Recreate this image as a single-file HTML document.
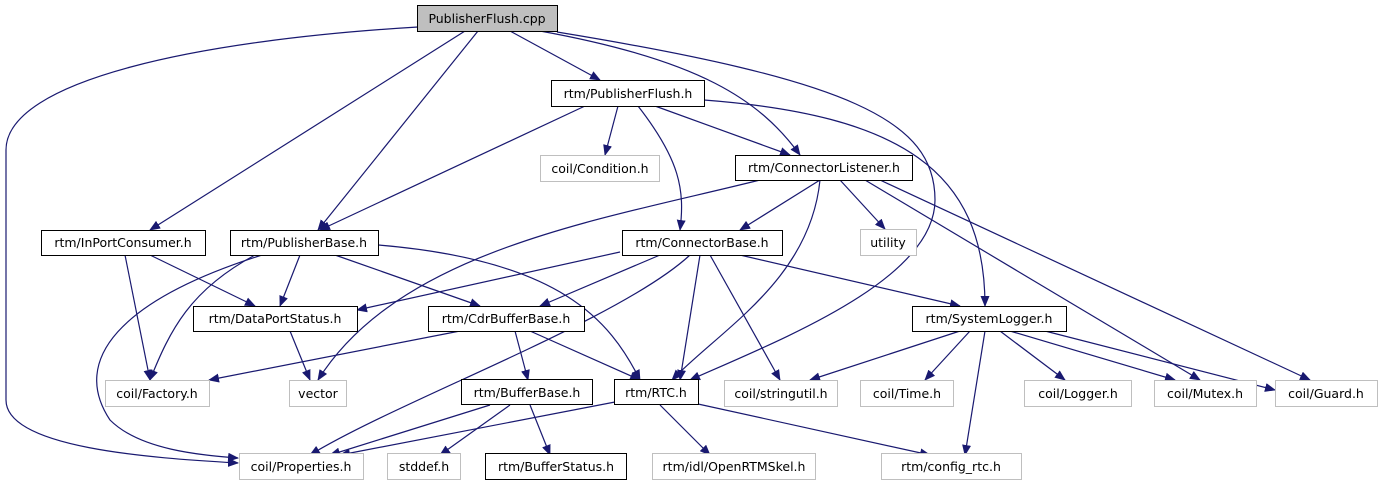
<!DOCTYPE html>
<html><head><meta charset="utf-8"><style>
html,body{margin:0;padding:0;background:#fff;}
svg{display:block;}
text{font-family:"DejaVu Sans","Liberation Sans",sans-serif;font-size:12.5px;text-anchor:middle;}
</style></head><body>
<svg width="1381" height="485" viewBox="0 0 1381 485" xmlns="http://www.w3.org/2000/svg">
<defs><marker id="a" markerWidth="11" markerHeight="9" refX="10" refY="4.5" orient="auto" markerUnits="userSpaceOnUse"><path d="M0,0 L11,4.5 L0,9 z" fill="#191970"/></marker></defs>
<g fill="none" stroke="#191970" stroke-width="1.2" marker-end="url(#a)">
<path d="M418,27 C200,40 6,80 6,150 L6,400 C6,448 150,458 238,463"/>
<path d="M465,31 L150,230"/>
<path d="M478,31 L318,230"/>
<path d="M510,31 L600,80"/>
<path d="M540,31 C700,60 760,100 800,155"/>
<path d="M557,32 C850,80 935,120 935,200 C935,280 780,340 690,380"/>
<path d="M704,100 C900,115 985,170 985,306"/>
<path d="M618,106 L605,155"/>
<path d="M585,106 L320,230"/>
<path d="M655,106 L790,155"/>
<path d="M638,106 C680,160 685,190 680,230"/>
<path d="M820,180 L740,230"/>
<path d="M840,180 L885,229"/>
<path d="M760,180 C600,220 400,250 318,380"/>
<path d="M820,180 C810,280 720,330 672,380"/>
<path d="M865,180 L1200,380"/>
<path d="M880,180 L1310,380"/>
<path d="M125,255 L150,380"/>
<path d="M150,255 L255,306"/>
<path d="M300,255 L280,306"/>
<path d="M335,255 L480,306"/>
<path d="M378,245 C560,260 610,320 640,380"/>
<path d="M255,255 C190,290 170,330 150,380"/>
<path d="M262,255 C120,300 70,360 110,420 C140,450 200,455 238,458"/>
<path d="M620,252 L357,310"/>
<path d="M660,255 L540,306"/>
<path d="M690,255 C620,320 400,400 310,455"/>
<path d="M700,255 L680,380"/>
<path d="M710,255 L780,380"/>
<path d="M740,255 L960,306"/>
<path d="M290,331 L310,380"/>
<path d="M460,331 L209,380"/>
<path d="M515,331 L528,380"/>
<path d="M530,331 L640,380"/>
<path d="M490,405 L330,455"/>
<path d="M510,405 L440,455"/>
<path d="M530,405 L550,455"/>
<path d="M615,402 L340,455"/>
<path d="M660,405 L710,455"/>
<path d="M698,404 L930,455"/>
<path d="M960,331 L810,380"/>
<path d="M970,331 L925,380"/>
<path d="M985,331 L965,455"/>
<path d="M1000,331 L1065,380"/>
<path d="M1010,331 L1175,380"/>
<path d="M1045,331 L1275,390"/>
</g>
<g stroke-width="1">
<rect x="417.5" y="5.5" width="140" height="26" fill="#bfbfbf" stroke="#000"/>
<rect x="551.5" y="80.5" width="153" height="26" fill="#fff" stroke="#000"/>
<rect x="540.5" y="155.5" width="119" height="26" fill="#fff" stroke="#bfbfbf"/>
<rect x="735.5" y="155.5" width="177" height="25" fill="#fff" stroke="#000"/>
<rect x="41.5" y="230.5" width="164" height="25" fill="#fff" stroke="#000"/>
<rect x="230.5" y="230.5" width="148" height="25" fill="#fff" stroke="#000"/>
<rect x="622.5" y="230.5" width="160" height="25" fill="#fff" stroke="#000"/>
<rect x="860.5" y="229.5" width="56" height="26" fill="#fff" stroke="#bfbfbf"/>
<rect x="193.5" y="306.5" width="164" height="25" fill="#fff" stroke="#000"/>
<rect x="428.5" y="306.5" width="156" height="25" fill="#fff" stroke="#000"/>
<rect x="912.5" y="306.5" width="154" height="25" fill="#fff" stroke="#000"/>
<rect x="105.5" y="380.5" width="104" height="26" fill="#fff" stroke="#bfbfbf"/>
<rect x="289.5" y="380.5" width="57" height="26" fill="#fff" stroke="#bfbfbf"/>
<rect x="461.5" y="379.5" width="131" height="25" fill="#fff" stroke="#000"/>
<rect x="614.5" y="379.5" width="84" height="25" fill="#fff" stroke="#000"/>
<rect x="724.5" y="380.5" width="113" height="26" fill="#fff" stroke="#bfbfbf"/>
<rect x="860.5" y="380.5" width="93" height="26" fill="#fff" stroke="#bfbfbf"/>
<rect x="1024.5" y="380.5" width="107" height="26" fill="#fff" stroke="#bfbfbf"/>
<rect x="1154.5" y="380.5" width="102" height="26" fill="#fff" stroke="#bfbfbf"/>
<rect x="1275.5" y="380.5" width="102" height="26" fill="#fff" stroke="#bfbfbf"/>
<rect x="239.5" y="453.5" width="124" height="26" fill="#fff" stroke="#bfbfbf"/>
<rect x="387.5" y="453.5" width="73" height="26" fill="#fff" stroke="#bfbfbf"/>
<rect x="485.5" y="453.5" width="141" height="26" fill="#fff" stroke="#000"/>
<rect x="652.5" y="453.5" width="163" height="26" fill="#fff" stroke="#bfbfbf"/>
<rect x="881.5" y="453.5" width="140" height="26" fill="#fff" stroke="#bfbfbf"/>
</g>
<g fill="#000">
<text x="487" y="23">PublisherFlush.cpp</text>
<text x="628" y="98">rtm/PublisherFlush.h</text>
<text x="600" y="173">coil/Condition.h</text>
<text x="824" y="172">rtm/ConnectorListener.h</text>
<text x="123" y="247">rtm/InPortConsumer.h</text>
<text x="304" y="247">rtm/PublisherBase.h</text>
<text x="702" y="247">rtm/ConnectorBase.h</text>
<text x="888" y="247">utility</text>
<text x="275" y="323">rtm/DataPortStatus.h</text>
<text x="506" y="323">rtm/CdrBufferBase.h</text>
<text x="989" y="323">rtm/SystemLogger.h</text>
<text x="157" y="398">coil/Factory.h</text>
<text x="318" y="398">vector</text>
<text x="527" y="397">rtm/BufferBase.h</text>
<text x="656" y="397">rtm/RTC.h</text>
<text x="781" y="398">coil/stringutil.h</text>
<text x="907" y="398">coil/Time.h</text>
<text x="1078" y="398">coil/Logger.h</text>
<text x="1205" y="398">coil/Mutex.h</text>
<text x="1326" y="398">coil/Guard.h</text>
<text x="301" y="471">coil/Properties.h</text>
<text x="424" y="471">stddef.h</text>
<text x="556" y="471">rtm/BufferStatus.h</text>
<text x="734" y="471">rtm/idl/OpenRTMSkel.h</text>
<text x="951" y="471">rtm/config_rtc.h</text>
</g>
</svg>
</body></html>
